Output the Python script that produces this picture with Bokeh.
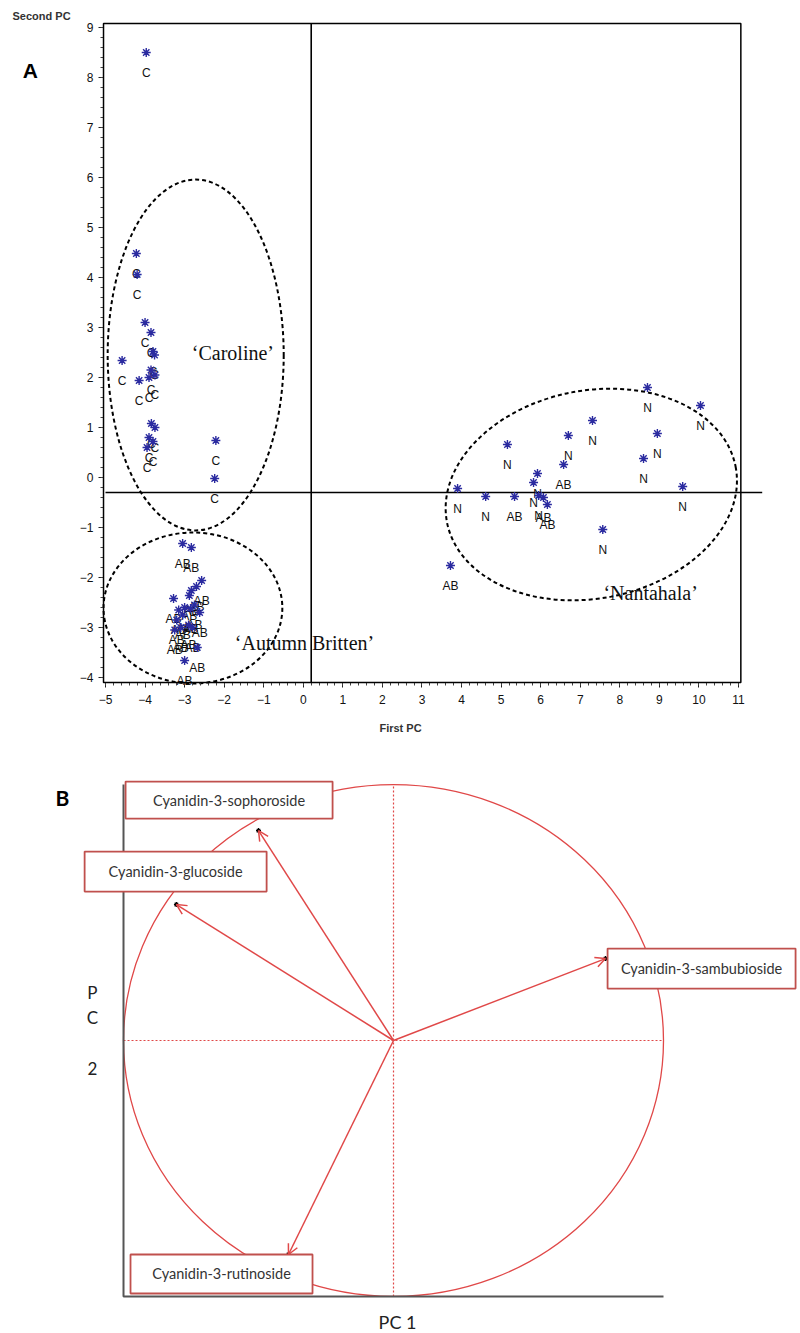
from bokeh.plotting import figure
from bokeh.models import (ColumnDataSource, FixedTicker, BoxAnnotation,
                          Arrow, OpenHead, Range1d)
from bokeh.layouts import column
from bokeh.embed import file_html
from bokeh.resources import INLINE
from bokeh.core.properties import value

# ---------------- Panel A data (scores) ----------------
c_x = [-3.97, -4.22, -4.20, -4.00, -3.85, -3.80, -3.76, -4.58, -3.85, -3.75,
       -3.90, -4.15, -3.84, -3.75, -3.90, -3.80, -3.95, -2.21, -2.24]
c_y = [8.50, 4.48, 4.06, 3.10, 2.90, 2.52, 2.45, 2.34, 2.15, 2.05,
       2.00, 1.94, 1.08, 1.00, 0.80, 0.72, 0.60, 0.74, -0.02]

ab_x = [-3.05, -2.83, -2.57, -2.70, -2.83, -2.88, -3.28, -2.75, -3.00, -2.85,
        -3.15, -2.62, -3.05, -3.20, -2.90, -3.10, -2.80, -3.25, -2.68, -3.00,
        6.58, 5.34, 6.07, 6.17, 3.72]
ab_y = [-1.32, -1.40, -2.06, -2.18, -2.26, -2.36, -2.42, -2.55, -2.60, -2.62,
        -2.65, -2.70, -2.75, -2.85, -2.95, -3.00, -3.00, -3.05, -3.40, -3.66,
        0.26, -0.38, -0.40, -0.54, -1.76]

n_x = [8.70, 10.04, 7.31, 8.95, 6.70, 5.16, 8.60, 5.92, 5.82, 3.90, 4.61, 9.59, 5.95, 7.57]
n_y = [1.80, 1.44, 1.14, 0.88, 0.84, 0.66, 0.38, 0.08, -0.10, -0.22, -0.38, -0.18, -0.36, -1.04]

ref_x = 0.2
ref_y = -0.3

x_ticks = list(range(-5, 12))
y_ticks = list(range(-4, 10))
x_lim = (-5.05, 11.06)
y_lim = (-4.10, 9.08)

group_names = ["\u2018Caroline\u2019", "\u2018Autumn Britten\u2019", "\u2018Nantahala\u2019"]
group_label_x = [-1.78, 0.03, 8.78]
group_label_y = [2.50, -3.30, -2.30]

ell_x = [-2.72, -2.79, 7.28]
ell_y = [2.45, -2.61, -0.34]
ell_w = [4.45, 4.52, 7.43]
ell_h = [7.02, 3.02, 4.16]
ell_a = [0.0, 0.0, 0.19]

# ---------------- Panel B data (loadings) ----------------
compounds = ["Cyanidin-3-sophoroside", "Cyanidin-3-glucoside",
             "Cyanidin-3-sambubioside", "Cyanidin-3-rutinoside"]
pc1_load = [-0.50, -0.804, 0.785, -0.389]
pc2_load = [0.82, 0.531, 0.32, -0.836]
box_x = [-0.609, -0.807, 1.141, -0.637]
box_y = [0.939, 0.660, 0.281, -0.912]
box_w = [207, 182, 188, 182]
box_h = [37, 40, 40, 39]

# ================= Panel A =================
pA = figure(width=800, height=745, x_range=Range1d(-7.654, 12.568), y_range=Range1d(-5.36, 9.54),
            output_backend="svg", toolbar_location=None, min_border=0)
pA.grid.visible = False
pA.outline_line_color = None

minor_x = [round(-5 + 0.2 * i, 2) for i in range(0, 81)]
minor_y = [round(-4 + 0.2 * i, 2) for i in range(0, 66)]
pA.xaxis.ticker = FixedTicker(ticks=x_ticks, minor_ticks=minor_x)
pA.yaxis.ticker = FixedTicker(ticks=y_ticks, minor_ticks=minor_y)
pA.xaxis.fixed_location = y_lim[0]
pA.yaxis.fixed_location = x_lim[0]
for ax in (pA.xaxis, pA.yaxis):
    ax.major_tick_out = 5
    ax.major_tick_in = 0
    ax.minor_tick_out = 3
    ax.minor_tick_in = 0
    ax.major_tick_line_color = "#222"
    ax.minor_tick_line_color = "#444"
    ax.major_label_text_font = "Liberation Sans"
    ax.major_label_text_font_size = "12px"
    ax.major_label_text_color = "#111"
    ax.axis_line_color = None
pA.xaxis.major_label_standoff = 7
pA.yaxis.major_label_standoff = 5
pA.xaxis.axis_label = "First PC"
pA.xaxis.axis_label_text_font = "Liberation Sans"
pA.xaxis.axis_label_text_font_size = "11px"
pA.xaxis.axis_label_text_font_style = "bold"
pA.xaxis.axis_label_text_color = "#333"
pA.xaxis.axis_label_standoff = 15

pA.add_layout(BoxAnnotation(left=x_lim[0], right=x_lim[1], bottom=y_lim[0], top=y_lim[1],
                            fill_alpha=0, fill_color=None,
                            line_color="black", line_alpha=1, line_width=1.5))
pA.segment(x0=[ref_x, -5.0], y0=[y_lim[0], ref_y], x1=[ref_x, 11.6], y1=[y_lim[1], ref_y],
           line_color="black", line_width=1.6)

pA.ellipse(x=ell_x, y=ell_y, width=ell_w, height=ell_h, angle=ell_a,
           fill_color=None, line_color="black", line_width=2, line_dash="4 3")

letter_font = value("Liberation Sans")
for xs, ys, lab in ((c_x, c_y, "C"), (ab_x, ab_y, "AB"), (n_x, n_y, "N")):
    pA.text(x=xs, y=ys, text=[lab] * len(xs), text_align="center", text_baseline="middle",
            y_offset=20, text_font=letter_font, text_font_size="12px", text_color="#111")
    pA.scatter(x=xs, y=ys, marker="asterisk", size=9, line_color="#2b2ba0", line_width=1.4)

pA.text(x=group_label_x, y=group_label_y, text=group_names, text_align="center",
        text_baseline="middle", text_font=value("Liberation Serif"), text_font_size="20px",
        text_color="#111")

pA.text(x=[-7.35], y=[9.24], text=["Second PC"], text_align="left", text_baseline="middle",
        text_font=letter_font, text_font_size="11px", text_font_style="bold", text_color="#333")
pA.text(x=[-6.9], y=[8.14], text=["A"], text_align="center", text_baseline="middle",
        text_font=letter_font, text_font_size="21px", text_font_style="bold", text_color="black")

# ================= Panel B =================
red = "#e04848"
box_red = "#c0504d"
pB = figure(width=800, height=588, x_range=Range1d(-1.4556, 1.5074), y_range=Range1d(-1.1445, 1.1523),
            x_axis_type=None, y_axis_type=None, min_border=0, output_backend="svg",
            toolbar_location=None)
pB.outline_line_color = None
pB.grid.visible = False

pB.ellipse(x=[0], y=[0], width=[2], height=[2], fill_color=None, line_color=red, line_width=1.3)
pB.segment(x0=[-1, 0], y0=[0, -1], x1=[1, 0], y1=[0, 1], line_color=red,
           line_dash="2 2", line_width=1.2)
pB.line(x=[-1, -1, 1], y=[1, -1, -1], line_color="#555", line_width=2)

arrow_src = ColumnDataSource(dict(x0=[0] * 4, y0=[0] * 4, x1=pc1_load, y1=pc2_load))
pB.add_layout(Arrow(source=arrow_src, x_start="x0", y_start="y0", x_end="x1", y_end="y1",
                    line_color=red, line_width=1.5,
                    end=OpenHead(size=10, line_color=red, line_width=1.5)))
pB.scatter(x=pc1_load, y=pc2_load, marker="asterisk", size=5, line_color="black", line_width=1.2)

pB.rect(x=box_x, y=box_y, width=box_w, height=box_h, width_units="screen", height_units="screen",
        fill_color="white", line_color=box_red, line_width=1.8)
pB.text(x=box_x, y=box_y, text=compounds, text_align="center", text_baseline="middle",
        text_font=value("Lato"), text_font_size="14.5px", text_color="#333")

pB.text(x=[-1.115, -1.115, -1.115], y=[0.1875, 0.09, -0.109], text=["P", "C", "2"],
        text_align="center", text_baseline="middle", text_font=value("Lato"),
        text_font_size="17px", text_color="#222")
pB.text(x=[0.015], y=[-1.10], text=["PC 1"], text_align="center", text_baseline="middle",
        text_font=value("Lato"), text_font_size="18px", text_color="#222")
pB.text(x=[-1.226], y=[0.949], text=["B"], text_align="center", text_baseline="middle",
        text_font=value("Lato"), text_font_size="21px", text_font_style="bold",
        text_color="black")

layout = column(pA, pB)
open("out.html", "w").write(file_html(layout, INLINE))
